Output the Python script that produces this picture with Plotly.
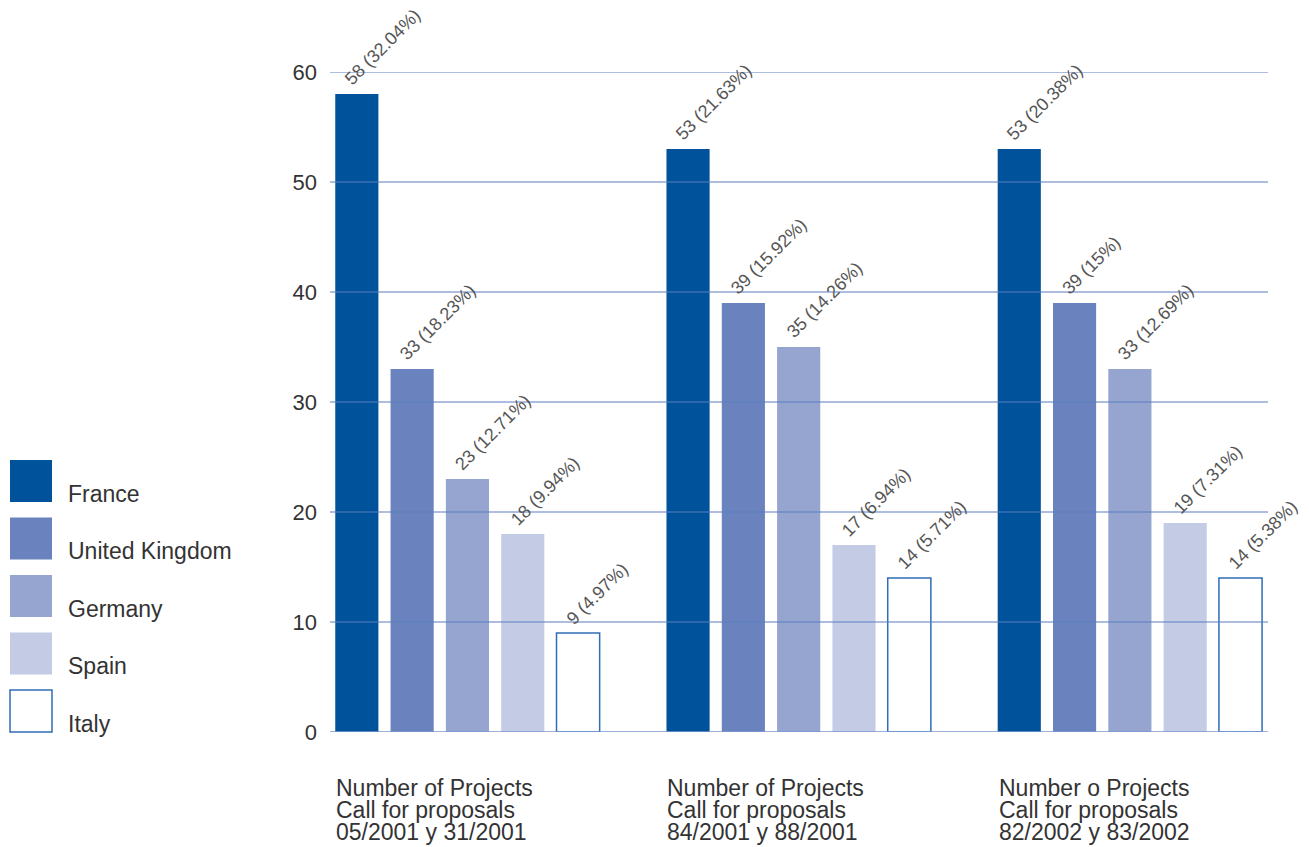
import plotly.graph_objects as go

# ---- data ----
categories = ["05/2001 y 31/2001", "84/2001 y 88/2001", "82/2002 y 83/2002"]
cat_titles = ["Number of Projects", "Number of Projects", "Number o Projects"]
countries = ["France", "United Kingdom", "Germany", "Spain", "Italy"]
france = [58, 53, 53]
uk = [33, 39, 39]
germany = [23, 35, 33]
spain = [18, 17, 19]
italy = [9, 14, 14]
france_pct = ["32.04%", "21.63%", "20.38%"]
uk_pct = ["18.23%", "15.92%", "15%"]
germany_pct = ["12.71%", "14.26%", "12.69%"]
spain_pct = ["9.94%", "6.94%", "7.31%"]
italy_pct = ["4.97%", "5.71%", "5.38%"]
y_ticks = [0, 10, 20, 30, 40, 50, 60]

series = [france, uk, germany, spain, italy]
pcts = [france_pct, uk_pct, germany_pct, spain_pct, italy_pct]
fills = ["#00529b", "#6a82bd", "#95a5d0", "#c4cce5", "#ffffff"]
lines = ["#00529b", "#6a82bd", "#95a5d0", "#c4cce5", "#2f6db5"]

W, H = 1309, 847
L, T = 330, 72
PW, PH = 938, 660
R = W - L - PW
B = H - T - PH

def px(x):
    return (x - L) / PW

def py(y):
    return (T + PH - y) / PH

BARGAP = 0.165
GROUPGAP = 0.22
XMIN, XMAX = -0.415, 2.417
xs = list(range(len(categories)))
font = "Liberation Sans, Arial, Helvetica, sans-serif"

fig = go.Figure()
for k, name in enumerate(countries):
    fig.add_trace(go.Bar(
        x=xs, y=series[k], name=name,
        marker=dict(color=fills[k], line=dict(color=lines[k], width=1.5 if k == 4 else 0)),
        showlegend=False, cliponaxis=False,
    ))

slot = (1 - BARGAP) / len(countries)
half_bar = slot * (1 - GROUPGAP) / 2
annotations = []
for k in range(len(countries)):
    for i in xs:
        xc = i + (k - 2) * slot
        annotations.append(dict(
            x=xc - half_bar, y=series[k][i], xref="x", yref="y",
            text=f"{series[k][i]} ({pcts[k][i]})", textangle=-45,
            xanchor="left", yanchor="bottom", xshift=3, yshift=2,
            showarrow=False, font=dict(family=font, size=18, color="#555555"),
        ))

# category labels under the groups
for i in xs:
    lines_txt = [cat_titles[i], "Call for proposals", categories[i]]
    for j, t in enumerate(lines_txt):
        annotations.append(dict(
            x=i - (1 - BARGAP) / 2 + slot * GROUPGAP / 2, y=0, xref="x", yref="y",
            text=t, xanchor="left", yanchor="top", xshift=-1, yshift=-41 - 22 * j,
            showarrow=False, font=dict(family=font, size=23, color="#333333"),
        ))

# legend drawn manually
shapes = []
for k, name in enumerate(countries):
    top = 460 + 57.5 * k
    shapes.append(dict(
        type="rect", xref="paper", yref="paper",
        x0=px(10), x1=px(52), y0=py(top + 42), y1=py(top),
        fillcolor=fills[k], line=dict(color=lines[k], width=1.5 if k == 4 else 0),
    ))
    annotations.append(dict(
        x=px(66), y=py(top + 33.5), xref="paper", yref="paper",
        text=name, xanchor="left", yanchor="middle", showarrow=False,
        font=dict(family=font, size=23, color="#333333"),
    ))

# gridlines drawn above bars
for v in y_ticks:
    shapes.append(dict(
        type="line", xref="paper", yref="y", x0=0, x1=1, y0=v, y1=v,
        line=dict(color="#7d98cf" if v == 0 else "#5b7cc0", width=1.6 if v == 0 else 1.2),
        layer="above",
    ))

fig.update_layout(
    width=W, height=H,
    margin=dict(l=L, r=R, t=T, b=B),
    paper_bgcolor="white", plot_bgcolor="white",
    barmode="group", bargap=BARGAP, bargroupgap=GROUPGAP,
    xaxis=dict(range=[XMIN, XMAX], showticklabels=False, showgrid=False,
               zeroline=False, showline=False, ticks=""),
    yaxis=dict(range=[0, 60], tickvals=y_ticks, showgrid=False, zeroline=False,
               showline=False, ticks="", ticklabelstandoff=12,
               tickfont=dict(family=font, size=22, color="#333333")),
    annotations=annotations, shapes=shapes,
    font=dict(family=font),
)

fig.write_html(
    "out.html",
    config={"displayModeBar": False},
    post_script="document.body.style.margin='0';document.body.style.overflow='hidden';",
)
